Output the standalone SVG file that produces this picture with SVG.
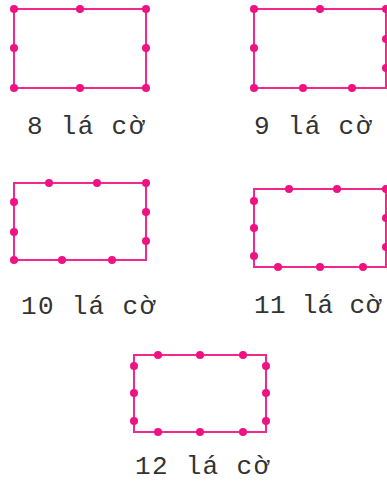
<svg xmlns="http://www.w3.org/2000/svg" width="387" height="482" viewBox="0 0 387 482">
<style>
.r{fill:none;stroke:#f2288c;stroke-width:2}
.d{fill:#ee1283}
.t{font-family:"Liberation Mono","Courier New",monospace;font-size:26px;fill:#333;letter-spacing:1.3px}
</style>
<rect width="387" height="482" fill="#fff"/>
<g id="n8">
<rect class="r" x="14" y="9" width="132" height="79"/>
<g class="d"><circle cx="14" cy="9" r="4"/><circle cx="80" cy="9" r="4"/><circle cx="146" cy="9" r="4"/><circle cx="14" cy="48" r="4"/><circle cx="146" cy="48" r="4"/><circle cx="14" cy="88" r="4"/><circle cx="80" cy="88" r="4"/><circle cx="146" cy="88" r="4"/></g>
<text class="t" x="27" y="134">8 lá cờ</text>
</g>
<g id="n9">
<rect class="r" x="254" y="9" width="132" height="79"/>
<g class="d"><circle cx="254" cy="9" r="4"/><circle cx="320" cy="9" r="4"/><circle cx="386" cy="9" r="4"/><circle cx="254" cy="48" r="4"/><circle cx="254" cy="88" r="4"/><circle cx="303" cy="88" r="4"/><circle cx="352" cy="88" r="4"/><circle cx="386" cy="39" r="4"/><circle cx="386" cy="68" r="4"/></g>
<text class="t" x="254" y="134">9 lá cờ</text>
</g>
<g id="n10">
<rect class="r" x="14" y="183" width="132" height="77"/>
<g class="d"><circle cx="49" cy="183" r="4"/><circle cx="97" cy="183" r="4"/><circle cx="146" cy="183" r="4"/><circle cx="14" cy="202" r="4"/><circle cx="14" cy="232" r="4"/><circle cx="14" cy="260" r="4"/><circle cx="62" cy="260" r="4"/><circle cx="112" cy="260" r="4"/><circle cx="146" cy="212" r="4"/><circle cx="146" cy="241" r="4"/></g>
<text class="t" x="21" y="314">10 lá cờ</text>
</g>
<g id="n11">
<rect class="r" x="254" y="189" width="132" height="78"/>
<g class="d"><circle cx="289" cy="189" r="4"/><circle cx="337" cy="189" r="4"/><circle cx="386" cy="189" r="4"/><circle cx="254" cy="201" r="4"/><circle cx="254" cy="228" r="4"/><circle cx="254" cy="256" r="4"/><circle cx="278" cy="267" r="4"/><circle cx="320" cy="267" r="4"/><circle cx="363" cy="267" r="4"/><circle cx="386" cy="218" r="4"/><circle cx="386" cy="247" r="4"/></g>
<text class="t" x="254" y="313" style="letter-spacing:0.3px">11 lá cờ</text>
</g>
<g id="n12">
<rect class="r" x="134" y="355" width="132" height="77"/>
<g class="d"><circle cx="158" cy="355" r="4"/><circle cx="200" cy="355" r="4"/><circle cx="243" cy="355" r="4"/><circle cx="134" cy="366" r="4"/><circle cx="134" cy="393" r="4"/><circle cx="134" cy="421" r="4"/><circle cx="266" cy="366" r="4"/><circle cx="266" cy="393" r="4"/><circle cx="266" cy="421" r="4"/><circle cx="158" cy="432" r="4"/><circle cx="200" cy="432" r="4"/><circle cx="243" cy="432" r="4"/></g>
<text class="t" x="135" y="474">12 lá cờ</text>
</g>
<g id="connectors"/>
</svg>
